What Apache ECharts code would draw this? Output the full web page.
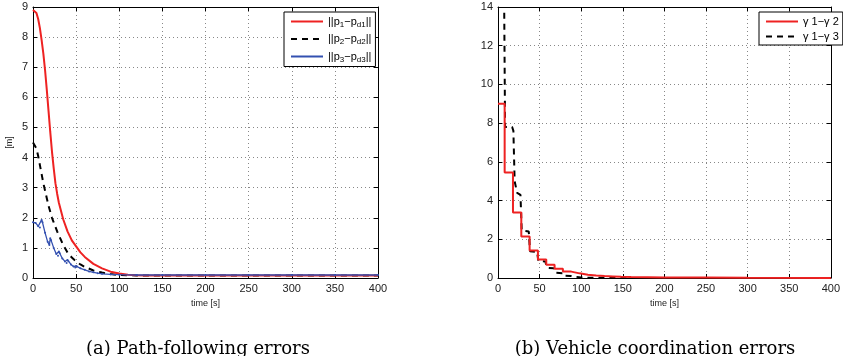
<!DOCTYPE html>
<html>
<head>
<meta charset="utf-8">
<script src="https://cdn.jsdelivr.net/npm/echarts@6/dist/echarts.min.js"></script>
<style>
html,body{margin:0;padding:0;background:#fff;}
#c{width:843px;height:356px;}
</style>
</head>
<body>
<div id="c"></div>
<script>
// ---- Data (left: path-following errors) ----
var tA = [0,2,4,6,8,10,12,14,16,18,20,22,24,26,28,30,35,40,45,50,55,60,70,80,90,100,110,120,130,150,200,250,300,350,400];
var errP1 = [8.9,8.9,8.8,8.6,8.3,7.9,7.45,6.9,6.25,5.55,4.85,4.2,3.65,3.15,2.8,2.5,1.95,1.55,1.25,1.05,0.85,0.7,0.47,0.32,0.21,0.15,0.11,0.09,0.085,0.08,0.08,0.08,0.08,0.08,0.08];
var errP2 = [4.5,4.45,4.3,4.05,3.75,3.45,3.15,2.9,2.65,2.4,2.2,2.0,1.85,1.7,1.55,1.42,1.1,0.85,0.68,0.55,0.45,0.37,0.25,0.18,0.13,0.1,0.09,0.085,0.08,0.08,0.08,0.08,0.08,0.08,0.08];
var tB = [0,3,6,8,10,11,14,17,19,20,21,24,27,29,30,31,34,37,39,40,41,44,47,49,50,51,55,60,65,70,75,80,90,100,120,150,200,250,300,350,400];
var errP3 = [1.85,1.83,1.72,1.68,1.93,1.85,1.5,1.2,1.1,1.32,1.25,1.0,0.8,0.74,0.88,0.82,0.65,0.55,0.5,0.6,0.56,0.45,0.38,0.35,0.4,0.38,0.32,0.27,0.22,0.19,0.16,0.14,0.12,0.11,0.1,0.1,0.1,0.1,0.1,0.1,0.1];

// ---- Data (right: coordination errors) ----
var tG12 = [0,8,18,28,38,48,58,68,78,88,98,108,118,128,138,148,160,180,200,250,300,400];
var g12 = [9,5.45,3.38,2.15,1.42,0.95,0.68,0.48,0.33,0.24,0.17,0.13,0.1,0.08,0.06,0.05,0.04,0.03,0.02,0.01,0.005,0.005];
var tG13 = [7.5,8.5,17,18.5,20,23,27,28.5,37,38.5,47,48.5,57,58.5,67,68.5,78,79,88,90,100,150,400];
var g13 = [13.7,7.8,7.8,7.6,5.0,4.4,4.3,2.45,2.4,1.38,1.35,0.88,0.85,0.53,0.5,0.27,0.25,0.12,0.1,0.04,0.02,0.005,0];

var xTicks = [0,400,50];
var yTicksA = [0,9,1];
var yTicksB = [0,14,2];

function pairs(xs, ys){ return xs.map(function(x,i){ return [x, ys[i]]; }); }

var FONT = 'Liberation Sans, Arial, sans-serif';
var labelStyle = {fontFamily: FONT, fontSize: 11, color: '#222'};
var gridLine = {show: true, lineStyle: {color: '#888', type: [1,3], width: 1}};

function xAx(gi){
  return {type:'value', gridIndex:gi, min:xTicks[0], max:xTicks[1], interval:xTicks[2],
    axisLine:{show:true, onZero:false, lineStyle:{color:'#000', width:1}},
    axisTick:{inside:true, length:4, lineStyle:{color:'#000'}},
    axisLabel:Object.assign({margin:5, showMaxLabel:true}, labelStyle),
    splitLine:gridLine,
    name:'time [s]', nameLocation:'middle', nameGap:18,
    nameTextStyle:{fontFamily:FONT, fontSize:9, color:'#222'}};
}
function xTop(gi){
  return {type:'value', gridIndex:gi, position:'top', min:xTicks[0], max:xTicks[1], interval:xTicks[2],
    axisLine:{show:true, onZero:false, lineStyle:{color:'#000', width:1}},
    axisTick:{inside:true, length:4, lineStyle:{color:'#000'}},
    axisLabel:{show:false}, splitLine:{show:false}};
}
function yAx(gi, t, name){
  var o = {type:'value', gridIndex:gi, min:t[0], max:t[1], interval:t[2],
    axisLine:{show:true, onZero:false, lineStyle:{color:'#000', width:1}},
    axisTick:{inside:true, length:4, lineStyle:{color:'#000'}},
    axisLabel:Object.assign({margin:5}, labelStyle),
    splitLine:gridLine};
  if (name) {
    o.name = name; o.nameLocation = 'middle'; o.nameGap = 19; o.nameRotate = 90;
    o.nameTextStyle = {fontFamily:FONT, fontSize:9, color:'#222'};
  }
  return o;
}
function yRight(gi, t){
  return {type:'value', gridIndex:gi, position:'right', min:t[0], max:t[1], interval:t[2],
    axisLine:{show:true, onZero:false, lineStyle:{color:'#000', width:1}},
    axisTick:{inside:true, length:4, lineStyle:{color:'#000'}},
    axisLabel:{show:false}, splitLine:{show:false}};
}

var RED = '#ee2222', BLUE = '#3350b0';
var legendRich = {
  n:{fontFamily:FONT, fontSize:11, color:'#000'},
  s:{fontFamily:FONT, fontSize:8, color:'#000', padding:[6,0,0,0]}
};
var legendFmt = {
  'p1':'{n|||p}{s|1}{n|−p}{s|d1}{n|||}',
  'p2':'{n|||p}{s|2}{n|−p}{s|d2}{n|||}',
  'p3':'{n|||p}{s|3}{n|−p}{s|d3}{n|||}'
};
var CAP_FONT = '18px "DejaVu Serif", serif';

var chart = echarts.init(document.getElementById('c'), null, {renderer:'canvas'});
chart.setOption({
  animation:false,
  backgroundColor:'#fff',
  grid:[
    {left:33, top:7, width:345, height:271, show:false},
    {left:498, top:7, width:340, height:271, show:false}
  ],
  xAxis:[xAx(0), xAx(1), xTop(0), xTop(1)],
  yAxis:[yAx(0, yTicksA, '[m]'), yAx(1, yTicksB), yRight(0, yTicksA), yRight(1, yTicksB)],
  legend:[
    {data:['p1','p2','p3'], orient:'vertical', left:284, top:12, itemWidth:32, itemHeight:10, itemGap:5,
     padding:[4,4,3,6], borderColor:'#000', borderWidth:1, backgroundColor:'#fff',
     itemStyle:{opacity:0},
     formatter:function(n){ return legendFmt[n]; },
     textStyle:{fontFamily:FONT, fontSize:11, color:'#000', rich:legendRich}},
    {data:['γ 1−γ 2','γ 1−γ 3'], orient:'vertical', left:759, top:12, itemWidth:32, itemHeight:10, itemGap:4,
     padding:[4,4,3,6], borderColor:'#000', borderWidth:1, backgroundColor:'#fff',
     itemStyle:{opacity:0},
     textStyle:{fontFamily:FONT, fontSize:11, color:'#000'}}
  ],
  graphic:[
    {type:'text', x:198, y:349, style:{text:'(a) Path-following errors', font:CAP_FONT, fill:'#000', align:'center', verticalAlign:'middle'}},
    {type:'text', x:655, y:349, style:{text:'(b) Vehicle coordination errors', font:CAP_FONT, fill:'#000', align:'center', verticalAlign:'middle'}}
  ],
  series:[
    {name:'p1', type:'line', xAxisIndex:0, yAxisIndex:0, data:pairs(tA, errP1), showSymbol:false, symbol:'none',
     lineStyle:{color:RED, width:2}, itemStyle:{color:RED}, z:4},
    {name:'p2', type:'line', xAxisIndex:0, yAxisIndex:0, data:pairs(tA, errP2), showSymbol:false, symbol:'none',
     lineStyle:{color:'#000', width:2, type:[6,5]}, itemStyle:{color:'#000'}, z:3},
    {name:'p3', type:'line', xAxisIndex:0, yAxisIndex:0, data:pairs(tB, errP3), symbol:'circle', symbolSize:2, showSymbol:true,
     lineStyle:{color:BLUE, width:1.3}, itemStyle:{color:BLUE}, z:5},
    {name:'γ 1−γ 3', type:'line', xAxisIndex:1, yAxisIndex:1, data:pairs(tG13, g13), showSymbol:false, symbol:'none',
     lineStyle:{color:'#000', width:2, type:[6,5]}, itemStyle:{color:'#000'}, z:3},
    {name:'γ 1−γ 2', type:'line', xAxisIndex:1, yAxisIndex:1, data:pairs(tG12, g12), step:'end', showSymbol:false, symbol:'none',
     lineStyle:{color:RED, width:2}, itemStyle:{color:RED}, z:4}
  ]
});
</script>
</body>
</html>
